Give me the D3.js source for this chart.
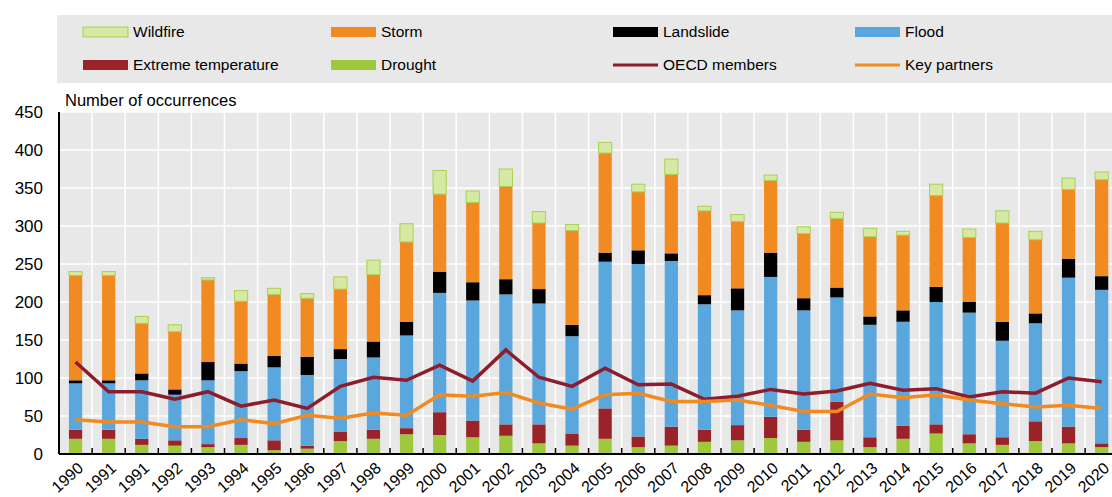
<!DOCTYPE html>
<html>
<head>
	<script src="https://cdn.jsdelivr.net/npm/d3@7"></script>
	<style>
		body { margin: 0; background: white; }
		text { font-family: "Liberation Sans", Arial, sans-serif; fill: #000; }
	</style>
</head>
<body>
	<script>

		// ---- data ----
		var years = ["1990", "1991", "1991", "1992", "1993", "1994", "1995", "1996",
			"1997", "1998", "1999", "2000", "2001", "2002", "2003", "2004", "2005",
			"2006", "2007", "2008", "2009", "2010", "2011", "2012", "2013", "2014",
			"2015", "2016", "2017", "2018", "2019", "2020"];

		var drought   = [20, 20, 12, 11, 9, 12, 5, 7, 17, 20, 26, 25, 22, 24, 14, 11, 20, 9, 11, 16, 18, 21, 16, 18, 9, 20, 27, 14, 12, 17, 14, 9];
		var extreme   = [12, 12, 8, 7, 4, 9, 13, 4, 12, 12, 8, 30, 22, 15, 25, 16, 40, 14, 25, 16, 20, 28, 16, 51, 13, 17, 12, 12, 10, 26, 22, 5];
		var flood     = [61, 61, 77, 60, 84, 88, 96, 93, 96, 95, 122, 157, 158, 171, 159, 128, 193, 227, 218, 165, 151, 184, 157, 137, 148, 137, 161, 160, 127, 129, 196, 202];
		var landslide = [4, 4, 9, 7, 24, 10, 15, 24, 13, 21, 18, 28, 24, 20, 19, 15, 12, 18, 10, 12, 29, 32, 16, 13, 11, 15, 20, 14, 25, 13, 25, 18];
		var storm     = [138, 138, 66, 76, 108, 82, 81, 77, 79, 88, 105, 102, 105, 122, 87, 124, 131, 77, 104, 111, 88, 95, 85, 91, 105, 99, 120, 85, 130, 97, 91, 127];
		var wildfire  = [5, 5, 9, 9, 3, 14, 8, 6, 16, 19, 24, 31, 15, 23, 15, 8, 14, 10, 20, 6, 9, 7, 9, 8, 11, 5, 15, 11, 16, 11, 15, 10];

		var oecd      = [121, 82, 82, 72, 82, 63, 71, 60, 89, 101, 97, 117, 96, 137, 101, 89, 113, 91, 92, 72, 76, 85, 79, 83, 93, 84, 86, 75, 82, 80, 100, 95];
		var partners  = [45, 42, 42, 36, 36, 45, 40, 51, 47, 54, 51, 78, 76, 81, 67, 59, 78, 80, 69, 69, 71, 64, 56, 56, 79, 74, 78, 71, 66, 62, 64, 60];

		var yTicks = [0, 50, 100, 150, 200, 250, 300, 350, 400, 450];

		// ---- setup ----
		var width = 1112, height = 497;

		var svg = d3.select("body").append("svg")
			.attr("width", width)
			.attr("height", height);

		var keys = ["Drought", "Extreme temperature", "Flood", "Landslide", "Storm", "Wildfire"];
		var colors = {
			"Drought": "#9fc93c",
			"Extreme temperature": "#9a2329",
			"Flood": "#5aa7dd",
			"Landslide": "#000000",
			"Storm": "#f28a22",
			"Wildfire": "#d6e9a2"
		};

		var rows = years.map(function(yr, i) {
			return {
				i: i,
				"Drought": drought[i],
				"Extreme temperature": extreme[i],
				"Flood": flood[i],
				"Landslide": landslide[i],
				"Storm": storm[i],
				"Wildfire": wildfire[i]
			};
		});

		// plot area
		var plot_left = 59, plot_bottom = 454, plot_top = 112;
		var step = 33.1;

		var x = d3.scaleBand()
			.domain(d3.range(years.length))
			.range([plot_left, plot_left + step * years.length])
			.paddingInner(0.6)
			.paddingOuter(0.3);

		var y = d3.scaleLinear()
			.domain([0, 450])
			.range([plot_bottom, plot_top]);

		// plot background
		svg.append("rect")
			.attr("x", plot_left).attr("y", plot_top)
			.attr("width", width - plot_left).attr("height", plot_bottom - plot_top)
			.attr("fill", "#e8e8e8");

		// gridlines
		svg.append("g").selectAll("line")
			.data(yTicks.slice(1))
			.enter().append("line")
			.attr("x1", plot_left).attr("x2", width)
			.attr("y1", function(d) { return y(d); })
			.attr("y2", function(d) { return y(d); })
			.attr("stroke", "#fff").attr("stroke-width", 1.5);

		var bounds = d3.range(1, years.length + 1).map(function(i) { return plot_left + step * i; });

		svg.append("g").selectAll("line")
			.data(bounds)
			.enter().append("line")
			.attr("x1", function(d) { return d; }).attr("x2", function(d) { return d; })
			.attr("y1", plot_top).attr("y2", plot_bottom)
			.attr("stroke", "#fff").attr("stroke-width", 1.5);

		// stacked bars
		var series = d3.stack().keys(keys)(rows);

		svg.append("g").selectAll("g")
			.data(series)
			.enter().append("g")
			.attr("fill", function(d) { return colors[d.key]; })
			.attr("stroke", function(d) { return d.key == "Wildfire" ? "#a9d154" : "none"; })
			.attr("stroke-width", 1)
			.selectAll("rect")
			.data(function(d) { return d; })
			.enter().append("rect")
			.attr("x", function(d) { return x(d.data.i); })
			.attr("width", x.bandwidth())
			.attr("y", function(d) { return y(d[1]); })
			.attr("height", function(d) { return y(d[0]) - y(d[1]); });

		// lines
		var line = d3.line()
			.x(function(d, i) { return x(i) + x.bandwidth() / 2; })
			.y(function(d) { return y(d); });

		svg.append("path")
			.datum(oecd)
			.attr("d", line)
			.attr("fill", "none")
			.attr("stroke", "#8c1d2c")
			.attr("stroke-width", 3.5);

		svg.append("path")
			.datum(partners)
			.attr("d", line)
			.attr("fill", "none")
			.attr("stroke", "#f28a22")
			.attr("stroke-width", 3.5);

		// axes
		svg.append("line")
			.attr("x1", plot_left).attr("x2", width)
			.attr("y1", plot_bottom).attr("y2", plot_bottom)
			.attr("stroke", "#000").attr("stroke-width", 2);

		svg.append("line")
			.attr("x1", plot_left).attr("x2", plot_left)
			.attr("y1", plot_top).attr("y2", plot_bottom)
			.attr("stroke", "#000").attr("stroke-width", 2);

		svg.append("g").selectAll("line")
			.data(bounds)
			.enter().append("line")
			.attr("x1", function(d) { return d; }).attr("x2", function(d) { return d; })
			.attr("y1", plot_bottom - 6).attr("y2", plot_bottom)
			.attr("stroke", "#000").attr("stroke-width", 1.5);

		svg.append("g").selectAll("text")
			.data(yTicks)
			.enter().append("text")
			.attr("x", 43)
			.attr("y", function(d) { return y(d); })
			.attr("dy", "0.35em")
			.attr("text-anchor", "end")
			.style("font-size", "17px")
			.text(function(d) { return d; });

		// rotated year labels, top-right corner near each bar
		svg.append("g").selectAll("text")
			.data(years)
			.enter().append("text")
			.attr("transform", function(d, i) {
				return "translate(" + (x(i) + x.bandwidth() / 2 + 1) + "," + (plot_bottom + 7) + ") rotate(-42)";
			})
			.attr("text-anchor", "end")
			.attr("dy", "0.72em")
			.style("font-size", "16px")
			.text(function(d) { return d; });

		svg.append("text")
			.attr("x", 65).attr("y", 106)
			.style("font-size", "16.5px")
			.text("Number of occurrences");

		// legend
		svg.append("rect")
			.attr("x", 57).attr("y", 15)
			.attr("width", width - 57).attr("height", 68)
			.attr("fill", "#e8e8e8");

		var legend = [
			{ name: "Wildfire", type: "box", col: 0, row: 0 },
			{ name: "Storm", type: "box", col: 1, row: 0 },
			{ name: "Landslide", type: "box", col: 2, row: 0 },
			{ name: "Flood", type: "box", col: 3, row: 0 },
			{ name: "Extreme temperature", type: "box", col: 0, row: 1 },
			{ name: "Drought", type: "box", col: 1, row: 1 },
			{ name: "OECD members", type: "line", col: 2, row: 1, color: "#8c1d2c" },
			{ name: "Key partners", type: "line", col: 3, row: 1, color: "#f28a22" }
		];
		var colX = [83, 331, 613, 855];
		var rowY = [32, 65];

		var item = svg.append("g").selectAll("g")
			.data(legend)
			.enter().append("g")
			.attr("transform", function(d) { return "translate(" + colX[d.col] + "," + rowY[d.row] + ")"; });

		item.filter(function(d) { return d.type == "box"; })
			.append("rect")
			.attr("x", 0).attr("y", -5)
			.attr("width", 45).attr("height", 10)
			.attr("fill", function(d) { return colors[d.name]; })
			.attr("stroke", function(d) { return d.name == "Wildfire" ? "#a9d154" : "none"; });

		item.filter(function(d) { return d.type == "line"; })
			.append("line")
			.attr("x1", 0).attr("x2", 45)
			.attr("stroke", function(d) { return d.color; })
			.attr("stroke-width", 3);

		item.append("text")
			.attr("x", 50)
			.attr("dy", "0.35em")
			.style("font-size", "15.5px")
			.text(function(d) { return d.name; });

	</script>
</body>
</html>
